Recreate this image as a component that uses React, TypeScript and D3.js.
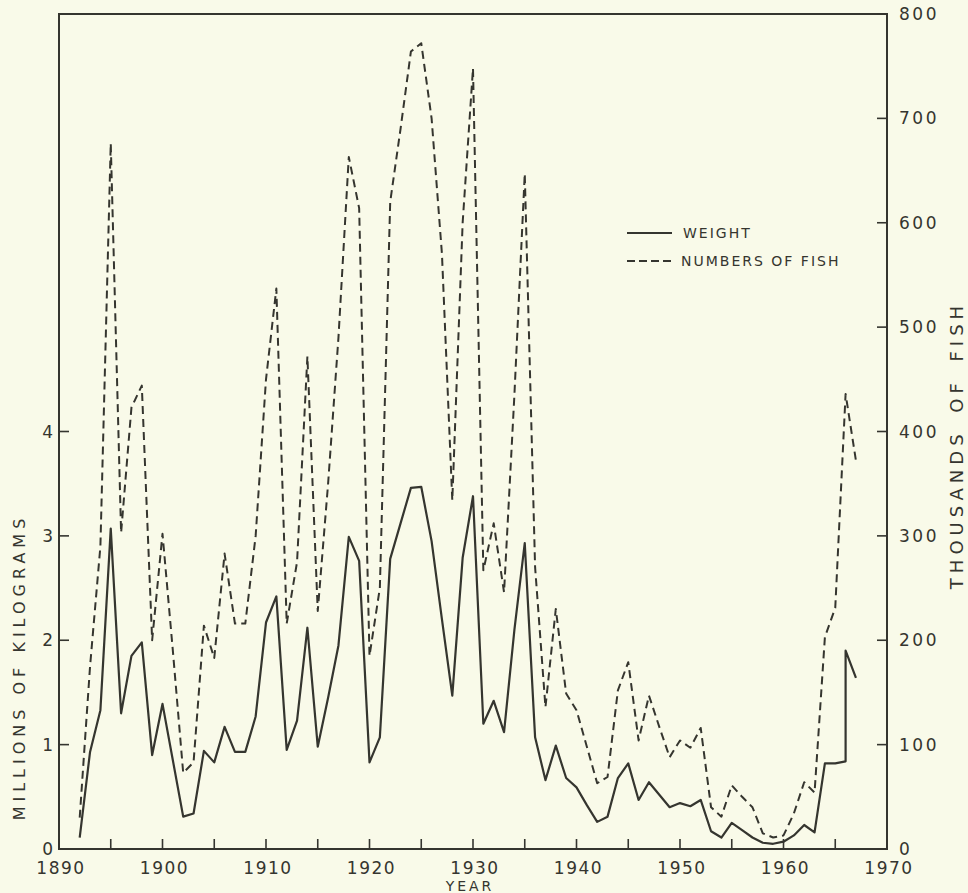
import * as d3 from 'd3'
import React, { useRef, useEffect } from 'react'

// catch by weight (millions of kg) and by numbers (thousands of fish)
const weightYears = [1892, 1893, 1894, 1895, 1896, 1897, 1898, 1899, 1900, 1901, 1902, 1903, 1904, 1905, 1906, 1907, 1908, 1909, 1910, 1911, 1912, 1913, 1914, 1915, 1916, 1917, 1918, 1919, 1920, 1921, 1922, 1923, 1924, 1925, 1926, 1927, 1928, 1929, 1930, 1931, 1932, 1933, 1934, 1935, 1936, 1937, 1938, 1939, 1940, 1941, 1942, 1943, 1944, 1945, 1946, 1947, 1948, 1949, 1950, 1951, 1952, 1953, 1954, 1955, 1956, 1957, 1958, 1959, 1960, 1961, 1962, 1963, 1964, 1965, 1966, 1966, 1967]
const weight = [0.11, 0.93, 1.33, 3.07, 1.30, 1.85, 1.98, 0.90, 1.39, 0.85, 0.31, 0.34, 0.94, 0.83, 1.17, 0.93, 0.93, 1.27, 2.17, 2.42, 0.95, 1.23, 2.12, 0.98, 1.45, 1.95, 2.99, 2.76, 0.83, 1.07, 2.78, 3.12, 3.46, 3.47, 2.95, 2.2, 1.47, 2.79, 3.38, 1.20, 1.42, 1.12, 2.1, 2.93, 1.07, 0.66, 0.99, 0.68, 0.59, 0.42, 0.26, 0.31, 0.68, 0.82, 0.47, 0.64, 0.52, 0.40, 0.44, 0.41, 0.47, 0.17, 0.11, 0.25, 0.18, 0.11, 0.06, 0.05, 0.07, 0.13, 0.23, 0.16, 0.82, 0.82, 0.84, 1.90, 1.64]

const fishYears = [1892, 1893, 1894, 1895, 1896, 1897, 1898, 1899, 1900, 1901, 1902, 1903, 1904, 1905, 1906, 1907, 1908, 1909, 1910, 1911, 1912, 1913, 1914, 1915, 1916, 1917, 1918, 1919, 1920, 1921, 1922, 1923, 1924, 1925, 1926, 1927, 1928, 1929, 1930, 1931, 1932, 1933, 1934, 1935, 1936, 1937, 1938, 1939, 1940, 1941, 1942, 1943, 1944, 1945, 1946, 1947, 1948, 1949, 1950, 1951, 1952, 1953, 1954, 1955, 1956, 1957, 1958, 1959, 1960, 1961, 1962, 1963, 1964, 1965, 1966, 1967]
const fish = [30, 175, 290, 676, 303, 423, 444, 200, 302, 190, 73, 83, 214, 183, 283, 216, 216, 300, 450, 537, 216, 275, 472, 228, 350, 490, 663, 614, 185, 250, 620, 690, 764, 772, 700, 570, 334, 600, 748, 267, 312, 246, 435, 647, 270, 136, 230, 149, 133, 98, 63, 69, 152, 179, 104, 147, 117, 88, 104, 97, 116, 40, 31, 61, 50, 40, 15, 11, 13, 34, 64, 54, 203, 231, 436, 372]

const yearTicks = d3.range(1890, 1971, 5)
const yearLabels = [1890, 1900, 1910, 1920, 1930, 1940, 1950, 1960, 1970]
const weightTicks = [0, 1, 2, 3, 4]
const fishTicks = [0, 100, 200, 300, 400, 500, 600, 700, 800]

const W = 968
const H = 893
const ink = '#35352f'
const font = '"DejaVu Sans", sans-serif'

export default function App() {
  const ref = useRef<SVGGElement>(null)

  useEffect(() => {
    const g = d3.select(ref.current)
    g.selectAll('*').remove()

    const x = d3.scaleLinear().domain([1890, 1970]).range([59, 887])
    const yW = d3.scaleLinear().domain([0, 8]).range([849, 14])
    const yF = d3.scaleLinear().domain([0, 800]).range([849, 14])

    // frame
    g.append('path')
      .attr('d', `M${x(1890)},${yF(800)}H${x(1970)}V${yF(0)}H${x(1890)}Z`)
      .attr('fill', 'none')
      .attr('stroke', ink)
      .attr('stroke-width', 2)

    // bottom ticks
    g.selectAll('line.xt').data(yearTicks).enter().append('line')
      .attr('class', 'xt')
      .attr('x1', d => x(d)).attr('x2', d => x(d))
      .attr('y1', yF(0)).attr('y2', yF(0) - 10)
      .attr('stroke', ink).attr('stroke-width', 1.6)

    g.selectAll('text.xl').data(yearLabels).enter().append('text')
      .attr('class', 'xl')
      .attr('x', d => x(d) + 2).attr('y', 874)
      .attr('text-anchor', 'middle')
      .style('font-size', '17px').style('letter-spacing', '1.5px')
      .style('font-family', font).attr('fill', ink)
      .text(d => d)

    // left axis
    g.selectAll('line.lt').data(weightTicks).enter().append('line')
      .attr('class', 'lt')
      .attr('x1', x(1890)).attr('x2', x(1890) + 10)
      .attr('y1', d => yW(d)).attr('y2', d => yW(d))
      .attr('stroke', ink).attr('stroke-width', 1.6)

    g.selectAll('text.ll').data(weightTicks).enter().append('text')
      .attr('class', 'll')
      .attr('x', 53).attr('y', d => yW(d))
      .attr('dy', '0.36em')
      .attr('text-anchor', 'end')
      .style('font-size', '17px').style('font-family', font).attr('fill', ink)
      .text(d => d)

    // right axis
    g.selectAll('line.rt').data(fishTicks).enter().append('line')
      .attr('class', 'rt')
      .attr('x1', x(1970) - 10).attr('x2', x(1970))
      .attr('y1', d => yF(d)).attr('y2', d => yF(d))
      .attr('stroke', ink).attr('stroke-width', 1.6)

    g.selectAll('text.rl').data(fishTicks).enter().append('text')
      .attr('class', 'rl')
      .attr('x', 899).attr('y', d => yF(d))
      .attr('dy', '0.36em')
      .style('font-size', '17px').style('letter-spacing', '2.5px')
      .style('font-family', font).attr('fill', ink)
      .text(d => d)

    // titles
    g.append('text')
      .attr('transform', 'translate(25,667) rotate(-90)')
      .attr('text-anchor', 'middle')
      .style('font-size', '16px').style('letter-spacing', '5px')
      .style('font-family', font).attr('fill', ink)
      .text('MILLIONS OF KILOGRAMS')

    g.append('text')
      .attr('transform', 'translate(963,445) rotate(-90)')
      .attr('text-anchor', 'middle')
      .style('font-size', '18px').style('letter-spacing', '5px')
      .style('word-spacing', '6px')
      .style('font-family', font).attr('fill', ink)
      .text('THOUSANDS OF FISH')

    g.append('text')
      .attr('x', 470).attr('y', 891)
      .attr('text-anchor', 'middle')
      .style('font-size', '14px').style('letter-spacing', '3px')
      .style('font-family', font).attr('fill', ink)
      .text('YEAR')

    // series
    const weightLine = d3.line<number>()
      .x((d, i) => x(weightYears[i]))
      .y(d => yW(d))
    const fishLine = d3.line<number>()
      .x((d, i) => x(fishYears[i]))
      .y(d => yF(d))

    g.append('path')
      .attr('d', fishLine(fish))
      .attr('fill', 'none')
      .attr('stroke', ink)
      .attr('stroke-width', 2)
      .attr('stroke-dasharray', '8,5')
      .attr('stroke-linejoin', 'round')

    g.append('path')
      .attr('d', weightLine(weight))
      .attr('fill', 'none')
      .attr('stroke', ink)
      .attr('stroke-width', 2.2)
      .attr('stroke-linejoin', 'round')

    // legend
    const legend = g.append('g').attr('transform', 'translate(627,233)')
    legend.append('line')
      .attr('x1', 0).attr('x2', 45).attr('y1', 0).attr('y2', 0)
      .attr('stroke', ink).attr('stroke-width', 2)
    legend.append('line')
      .attr('x1', 0).attr('x2', 45).attr('y1', 28).attr('y2', 28)
      .attr('stroke', ink).attr('stroke-width', 2)
      .attr('stroke-dasharray', '8,4')
    legend.append('text')
      .attr('x', 56).attr('y', 0).attr('dy', '0.36em')
      .style('font-size', '14px').style('letter-spacing', '2px')
      .style('font-family', font).attr('fill', ink)
      .text('WEIGHT')
    legend.append('text')
      .attr('x', 54).attr('y', 28).attr('dy', '0.36em')
      .style('font-size', '14px').style('letter-spacing', '2px')
      .style('font-family', font).attr('fill', ink)
      .text('NUMBERS OF FISH')
  }, [])

  return (
    <div style={{ position: 'absolute', left: 0, top: 0 }}>
      <svg width={W} height={H} style={{ display: 'block' }}>
        <rect width={W} height={H} fill="#f9fae9" />
        <g ref={ref} />
      </svg>
    </div>
  )
}
